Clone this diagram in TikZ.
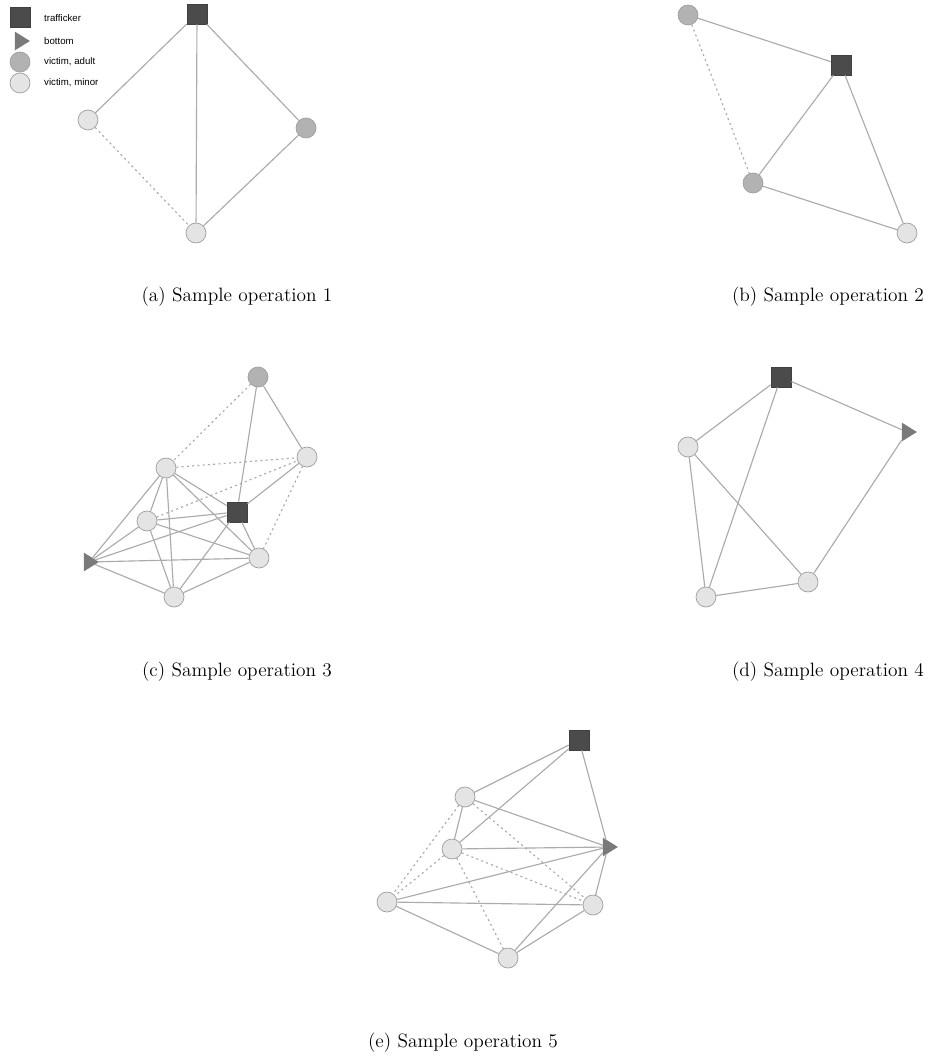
\documentclass[tikz,border=0pt]{standalone}
\usepackage{fontspec}
\newfontfamily\legendfont{Liberation Sans}
\usetikzlibrary{shapes.geometric}
\definecolor{trafgray}{HTML}{4B4B4B}
\definecolor{botgray}{HTML}{7A7A7A}
\definecolor{adultgray}{HTML}{B2B2B2}
\definecolor{minorgray}{HTML}{E4E4E4}
\definecolor{rimgray}{HTML}{9E9E9E}
\definecolor{edgegray}{HTML}{ABABAB}

\begin{document}
\begin{tikzpicture}[x=0.02cm,y=-0.02cm,
  link/.style={draw=edgegray,line width=0.65pt},
  weak/.style={dash pattern=on 1.2pt off 1.8pt},
  trafficker/.style={rectangle,fill=trafgray,draw=trafgray!85!black,minimum size=0.4cm,inner sep=0pt},
  bottom/.style={isosceles triangle,isosceles triangle apex angle=64,fill=botgray,draw=botgray,
    minimum height=0.28cm,inner sep=0pt},
  adult/.style={circle,fill=adultgray,draw=rimgray,minimum size=0.4cm,inner sep=0pt},
  minor/.style={circle,fill=minorgray,draw=rimgray,minimum size=0.4cm,inner sep=0pt},
  legend text/.style={anchor=west,font=\legendfont\fontsize{5.5}{6}\selectfont},
  caption/.style={font=\fontsize{11}{13}\selectfont}]

  \useasboundingbox (0,0) rectangle (927,1057);

  % legend
  \node[trafficker] (legT) at (20,17) {};
  \node[bottom] (legB) at (20,41) {};
  \node[adult] (legA) at (20,62) {};
  \node[minor] (legM) at (20,83) {};
  \node[legend text] (legTt) at (38,18) {trafficker};
  \node[legend text] (legBt) at (38,41) {bottom};
  \node[legend text] (legAt) at (38,62) {victim, adult};
  \node[legend text] (legMt) at (38,83) {victim, minor};

  % (a)
  \node[trafficker] (a1) at (197,14) {};
  \node[minor] (a2) at (88,120) {};
  \node[adult] (a3) at (306,128) {};
  \node[minor] (a4) at (196,233) {};
  \path[link]
    (a1) edge (a2)
    (a1) edge (a3)
    (a1) edge (a4)
    (a3) edge (a4)
    (a2) edge[weak] (a4);
  \node[caption] (capa) at (237,297) {(a) Sample operation 1};

  % (b)
  \node[adult] (b1) at (688,15) {};
  \node[trafficker] (b2) at (841,65) {};
  \node[adult] (b3) at (753,183) {};
  \node[minor] (b4) at (907,233) {};
  \path[link]
    (b1) edge (b2)
    (b2) edge (b3)
    (b2) edge (b4)
    (b3) edge (b4)
    (b1) edge[weak] (b3);
  \node[caption] (capb) at (828,297) {(b) Sample operation 2};

  % (c)
  \node[adult] (c1) at (258,377) {};
  \node[minor] (c2) at (307,457) {};
  \node[minor] (c3) at (166,468) {};
  \node[trafficker] (c4) at (237,512) {};
  \node[minor] (c5) at (147,521) {};
  \node[bottom] (c6) at (89,562) {};
  \node[minor] (c7) at (259,558) {};
  \node[minor] (c8) at (174,597) {};
  \path[link]
    (c1) edge (c4)
    (c1) edge (c2)
    (c2) edge (c4)
    (c3) edge (c4)
    (c3) edge (c5)
    (c3) edge (c6)
    (c3) edge (c7)
    (c3) edge (c8)
    (c5) edge (c4)
    (c5) edge (c6)
    (c5) edge (c7)
    (c5) edge (c8)
    (c6) edge (c4)
    (c6) edge (c7)
    (c6) edge (c8)
    (c4) edge (c7)
    (c4) edge (c8)
    (c8) edge (c7)
    (c1) edge[weak] (c3)
    (c3) edge[weak] (c2)
    (c5) edge[weak] (c2)
    (c2) edge[weak] (c7);
  \node[caption] (capc) at (237,672) {(c) Sample operation 3};

  % (d)
  \node[trafficker] (d1) at (781,377) {};
  \node[bottom] (d2) at (907,432) {};
  \node[minor] (d3) at (688,447) {};
  \node[minor] (d4) at (808,582) {};
  \node[minor] (d5) at (706,597) {};
  \path[link]
    (d1) edge (d2)
    (d1) edge (d3)
    (d1) edge (d5)
    (d3) edge (d5)
    (d3) edge (d4)
    (d4) edge (d5)
    (d2) edge (d4);
  \node[caption] (capd) at (828,672) {(d) Sample operation 4};

  % (e)
  \node[trafficker] (e1) at (579,740) {};
  \node[minor] (e2) at (465,797) {};
  \node[minor] (e3) at (452,849) {};
  \node[bottom] (e4) at (608,847) {};
  \node[minor] (e5) at (387,902) {};
  \node[minor] (e6) at (593,905) {};
  \node[minor] (e7) at (508,958) {};
  \path[link]
    (e1) edge (e2)
    (e1) edge (e3)
    (e1) edge (e4)
    (e2) edge (e3)
    (e2) edge (e4)
    (e3) edge (e4)
    (e5) edge (e4)
    (e5) edge (e6)
    (e5) edge (e7)
    (e4) edge (e6)
    (e4) edge (e7)
    (e6) edge (e7)
    (e2) edge[weak] (e5)
    (e2) edge[weak] (e6)
    (e3) edge[weak] (e5)
    (e3) edge[weak] (e6)
    (e3) edge[weak] (e7);
  \node[caption] (cape) at (463,1043) {(e) Sample operation 5};
\end{tikzpicture}
\end{document}
